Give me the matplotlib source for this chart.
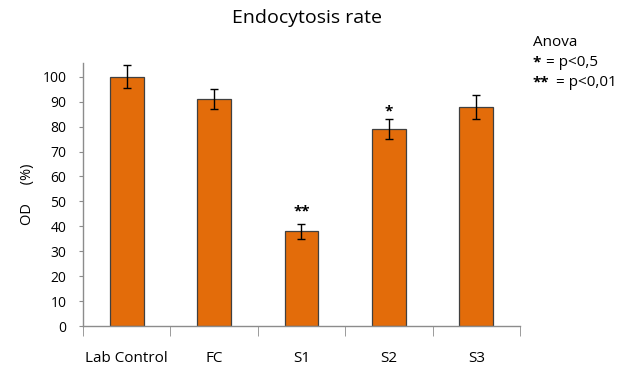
import numpy as np
import matplotlib
matplotlib.use("Agg")
import matplotlib.pyplot as plt

plt.rcParams["font.family"] = ["Open Sans", "DejaVu Sans"]

groups = ["Lab Control", "FC", "S1", "S2", "S3"]
values = [100, 91, 38, 79, 88]
errors = [4.6, 4.1, 2.9, 4.0, 4.8]
stars = ["", "", "**", "*", ""]
star_y = [0, 0, 46, 86, 0]

fig = plt.figure(figsize=(6.23, 3.70), dpi=100)
ax = fig.add_axes([0.1332, 0.1189, 0.7014, 0.7108])

x = np.arange(len(groups))
ax.bar(x, values, width=0.385, color="#E36C0A", edgecolor="#404040", linewidth=0.9,
       yerr=errors, capsize=3, error_kw=dict(elinewidth=1, capthick=1, ecolor="black"))

for i, s in enumerate(stars):
    if s:
        ax.text(x[i], star_y[i], s, ha="center", va="center", fontsize=11, fontweight="bold")

ax.set_xlim(-0.5, len(groups) - 0.5)
ax.set_ylim(0, 105.5)
ax.set_yticks(range(0, 101, 10))
ax.set_xticks(x)
ax.set_xticklabels(groups)
ax.set_xticks(np.arange(-0.5, len(groups)), minor=True)

for sp in ["top", "right"]:
    ax.spines[sp].set_visible(False)
for sp in ["left", "bottom"]:
    ax.spines[sp].set_color("#8c8c8c")
    ax.spines[sp].set_linewidth(1)

ax.tick_params(axis="y", length=3, color="#8c8c8c", labelsize=10, pad=9)
ax.tick_params(axis="x", which="major", length=0, labelsize=11, pad=18)
ax.tick_params(axis="x", which="minor", length=7, color="#8c8c8c")

ax.set_ylabel("OD     (%)", fontsize=10.5, labelpad=5)
fig.text(0.493, 0.951, "Endocytosis rate", ha="center", va="center", fontsize=14)

# legend-style note on the right
fig.text(0.855, 0.884, "Anova", fontsize=11, va="center")
legend_stars = ["*", "**"]
legend_text = ["= p<0,5", "= p<0,01"]
legend_y = [0.830, 0.776]
for s, t, yy in zip(legend_stars, legend_text, legend_y):
    fig.text(0.855, yy, s, fontsize=11, fontweight="bold", va="center")
    fig.text(0.855 + 0.0045 + 0.0165 * len(s), yy, t, fontsize=11, va="center")

fig.savefig("out.png", dpi=100)
